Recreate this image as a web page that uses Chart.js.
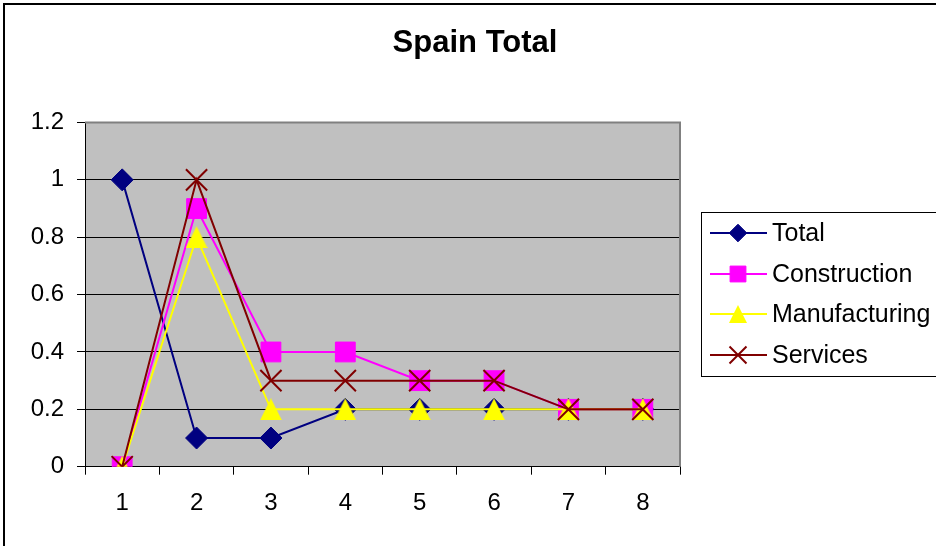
<!DOCTYPE html>
<html>
<head>
<meta charset="utf-8">
<title>Spain Total</title>
<script src="https://cdn.jsdelivr.net/npm/chart.js@4.4.1/dist/chart.umd.min.js"></script>
<style>
  html, body { margin: 0; padding: 0; background: #fff; }
  #wrap { width: 936px; height: 546px; }
</style>
</head>
<body>
<div id="wrap"><canvas id="chart" width="936" height="546"></canvas></div>
<script>
const chartTitle = "Spain Total";
const periods = ["1", "2", "3", "4", "5", "6", "7", "8"];
const total = [1, 0.1, 0.1, 0.2, 0.2, 0.2, 0.2, 0.2];
const construction = [0, 0.9, 0.4, 0.4, 0.3, 0.3, 0.2, 0.2];
const manufacturing = [0, 0.8, 0.2, 0.2, 0.2, 0.2, 0.2, 0.2];
const services = [0, 1, 0.3, 0.3, 0.3, 0.3, 0.2, 0.2];
const yTicks = [0, 0.2, 0.4, 0.6, 0.8, 1, 1.2];

const colors = {
  navy: "#000080",
  magenta: "#ff00ff",
  yellow: "#ffff00",
  maroon: "#800000",
  plot: "#c0c0c0",
  frame: "#808080"
};

Chart.defaults.font.family = '"Liberation Sans", Arial, sans-serif';
Chart.defaults.color = "#000";

// Excel-style triangle: centred in its box, not on its centroid
function makeTriangle(size, color) {
  const c = document.createElement("canvas");
  c.width = size;
  c.height = size;
  const g = c.getContext("2d");
  g.fillStyle = color;
  g.beginPath();
  g.moveTo(size / 2, 0);
  g.lineTo(size, size);
  g.lineTo(0, size);
  g.closePath();
  g.fill();
  return c;
}

function series(label, data, color, style, radius, order, bw) {
  return {
    label,
    data,
    borderColor: color,
    backgroundColor: color,
    pointBackgroundColor: color,
    pointBorderColor: color,
    pointStyle: style,
    pointRadius: radius,
    pointHoverRadius: radius,
    pointBorderWidth: bw,
    borderWidth: 2,
    tension: 0,
    order
  };
}

// plot background, outer frame, title and the boxed legend (Excel look)
const excelLook = {
  id: "excelLook",
  beforeDraw(chart) {
    const { ctx, chartArea: a } = chart;
    ctx.save();
    ctx.fillStyle = colors.plot;
    ctx.fillRect(a.left, a.top, a.right - a.left, a.bottom - a.top);
    ctx.restore();
  },
  beforeDatasetsDraw(chart) {
    const { ctx, chartArea: a } = chart;
    ctx.save();
    ctx.strokeStyle = colors.frame;
    ctx.lineWidth = 2;
    ctx.beginPath();
    ctx.moveTo(a.left, a.top);
    ctx.lineTo(a.right, a.top);
    ctx.lineTo(a.right, a.bottom);
    ctx.stroke();
    ctx.restore();
  },
  afterDraw(chart) {
    const ctx = chart.ctx;
    ctx.save();
    // outer chart frame
    ctx.strokeStyle = "#000";
    ctx.lineWidth = 2;
    ctx.strokeRect(4, 4, 1000, 1000);

    // title
    ctx.fillStyle = "#000";
    ctx.font = 'bold 31px "Liberation Sans", Arial, sans-serif';
    ctx.textAlign = "center";
    ctx.textBaseline = "middle";
    ctx.fillText(chartTitle, 475, 43);

    // legend
    ctx.lineWidth = 1;
    ctx.strokeStyle = "#000";
    ctx.strokeRect(701.5, 212.5, 260, 164);
    const rowY = [233, 274, 314, 355];
    chart.data.datasets.forEach((ds, i) => {
      const y = rowY[i];
      ctx.strokeStyle = ds.borderColor;
      ctx.lineWidth = 2;
      ctx.beginPath();
      ctx.moveTo(710, y);
      ctx.lineTo(767, y);
      ctx.stroke();
      ctx.fillStyle = ds.pointBackgroundColor;
      ctx.strokeStyle = ds.pointBorderColor;
      ctx.lineWidth = ds.pointBorderWidth;
      Chart.helpers.drawPoint(ctx, {
        pointStyle: ds.legendStyle || ds.pointStyle,
        radius: ds.pointRadius * 0.8,
        rotation: 0,
        borderWidth: ds.pointBorderWidth
      }, 738, y);
      ctx.fillStyle = "#000";
      ctx.font = '25px "Liberation Sans", Arial, sans-serif';
      ctx.textAlign = "left";
      ctx.textBaseline = "middle";
      ctx.fillText(ds.label, 772, y + 1);
    });
    ctx.restore();
  }
};

const manuSeries = series("Manufacturing", manufacturing, colors.yellow,
  makeTriangle(22, colors.yellow), 11, 2, 0);
manuSeries.legendStyle = makeTriangle(18, colors.yellow);

new Chart(document.getElementById("chart"), {
  type: "line",
  data: {
    labels: periods,
    datasets: [
      series("Total", total, colors.navy, "rectRot", 11, 4, 1),
      series("Construction", construction, colors.magenta, "rect", 14, 3, 1),
      manuSeries,
      series("Services", services, colors.maroon, "crossRot", 15, 1, 2)
    ]
  },
  options: {
    responsive: false,
    animation: false,
    layout: { padding: { top: 122.5, right: 256, left: 0, bottom: 0 } },
    plugins: {
      legend: { display: false },
      title: { display: false },
      tooltip: { enabled: false }
    },
    scales: {
      x: {
        offset: true,
        afterFit: s => { s.height = 79.3; },
        grid: {
          offset: true,
          drawOnChartArea: false,
          drawTicks: true,
          tickLength: 8,
          tickColor: "#000",
          color: "#000"
        },
        border: { display: true, color: "#000", width: 1 },
        ticks: { padding: 14, font: { size: 24 }, color: "#000", maxRotation: 0 }
      },
      y: {
        min: 0,
        max: 1.2,
        afterFit: s => { s.width = 85; },
        afterBuildTicks: s => { s.ticks = yTicks.map(v => ({ value: v })); },
        grid: {
          color: c => (c.tick && c.tick.value === 1.2 ? colors.frame : "#000"),
          lineWidth: 1,
          tickLength: 8,
          tickColor: "#000"
        },
        border: { display: true, color: "#000", width: 1 },
        ticks: {
          padding: 13,
          font: { size: 24 },
          color: "#000",
          callback: v => String(Math.round(v * 10) / 10)
        }
      }
    }
  },
  plugins: [excelLook]
});
</script>
</body>
</html>
